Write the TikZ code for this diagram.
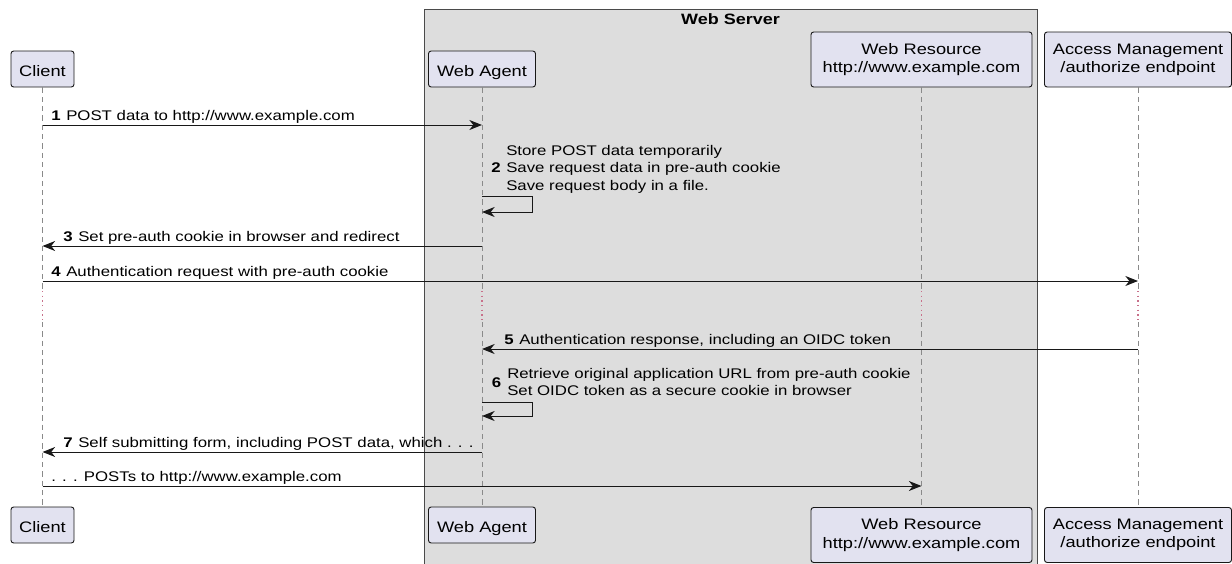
\documentclass[tikz,border=0pt]{standalone}
\usepackage{fontspec}
\setmainfont{Liberation Sans}[FakeStretch=1.2]
\usetikzlibrary{arrows.meta}
\definecolor{partfill}{HTML}{E2E2F0}
\definecolor{partdraw}{HTML}{181818}
\definecolor{boxfill}{HTML}{DDDDDD}
\definecolor{boxdraw}{HTML}{4A4A4A}
\definecolor{lifecol}{HTML}{8A8A8A}
\definecolor{delaycol}{HTML}{C8708A}
\newcommand\msgnum[1]{\makebox[11.25pt][l]{\bfseries #1}}
\begin{document}
\begin{tikzpicture}[x=0.75pt,y=-0.75pt,
  participant/.style={draw=partdraw, fill=partfill, rounded corners=2pt, line width=0.7pt,
    inner sep=0pt, align=center, font=\fontsize{11.4}{13.7}\selectfont, minimum height=27pt},
  single/.style={text height=11pt, text depth=0.5pt},
  tall/.style={minimum height=41.25pt},
  lifeline/.style={draw=lifecol, line width=0.7pt, dash pattern=on 4pt off 3pt},
  delay/.style={draw=delaycol, line width=1pt, dash pattern=on 1pt off 2.5pt},
  msg/.style={draw=partdraw, line width=0.75pt, -{Stealth[length=9.5pt,width=7.5pt,inset=3pt]}},
  lbl/.style={inner sep=0pt, anchor=base west, font=\fontsize{10.5}{12.6}\selectfont},
  ]
\useasboundingbox (0,0) rectangle (1232,564);

% group box
\node[draw=boxdraw, fill=boxfill, line width=0.75pt, inner sep=0pt, anchor=north west,
      minimum width=459.75pt, minimum height=424pt] (webserver) at (423.5,8.7) {};
\node[inner sep=0pt, anchor=base, font=\fontsize{11.25}{13}\selectfont\bfseries] (wstitle) at (730.5,24) {Web Server};

% participants (top)
\node[participant, single, minimum width=47.25pt] (client) at (42.5,69) {Client};
\node[participant, single, minimum width=80.25pt] (agent) at (482,69) {Web Agent};
\node[participant, tall, minimum width=165.75pt] (resource) at (921.5,59.5) {Web Resource\\http://www.example.com};
\node[participant, tall, minimum width=140.25pt] (access) at (1138,59.5) {Access Management\\/authorize endpoint};
% participants (bottom)
\node[participant, single, minimum width=47.25pt] (clientB) at (42.5,525) {Client};
\node[participant, single, minimum width=80.25pt] (agentB) at (482,525) {Web Agent};
\node[participant, tall, minimum width=165.75pt] (resourceB) at (921.5,535) {Web Resource\\http://www.example.com};
\node[participant, tall, minimum width=140.25pt] (accessB) at (1138,535) {Access Management\\/authorize endpoint};

% lifelines with delay
\foreach \p in {client,agent,resource,access}{
  \draw[lifeline] (\p.south) -- (\p.south |- 0,290);
  \draw[delay] (\p.south |- 0,291) -- (\p.south |- 0,322);
  \draw[lifeline] (\p.south |- 0,322) -- (\p B.north);
}

% 1
\draw[msg] (client.south |- 0,125) -- (agent.south |- 0,125);
\node[lbl] (m1) at (51,120) {\msgnum{1}POST data to http://www.example.com};
% 2
\node[lbl] (m2a) at (506,155) {Store POST data temporarily};
\node[lbl] (m2b) at (506,172) {Save request data in pre-auth cookie};
\node[lbl] (m2c) at (506,190) {Save request body in a file.};
\node[lbl, font=\fontsize{10.5}{12.6}\selectfont\bfseries] (m2n) at (491,172) {2};
\draw[msg] (agent.south |- 0,196) -- (532,196) -- (532,212) -- (agent.south |- 0,212);
% 3
\draw[msg] (agent.south |- 0,246) -- (client.south |- 0,246);
\node[lbl] (m3) at (63,241) {\msgnum{3}Set pre-auth cookie in browser and redirect};
% 4
\draw[msg] (client.south |- 0,281) -- (access.south |- 0,281);
\node[lbl] (m4) at (51,276) {\msgnum{4}Authentication request with pre-auth cookie};
% 5
\draw[msg] (access.south |- 0,349) -- (agent.south |- 0,349);
\node[lbl] (m5) at (504,344) {\msgnum{5}Authentication response, including an OIDC token};
% 6
\node[lbl] (m6a) at (507,378) {Retrieve original application URL from pre-auth cookie};
\node[lbl] (m6b) at (507,395) {Set OIDC token as a secure cookie in browser};
\node[lbl, font=\fontsize{10.5}{12.6}\selectfont\bfseries] (m6n) at (491.5,387) {6};
\draw[msg] (agent.south |- 0,402) -- (532,402) -- (532,416) -- (agent.south |- 0,416);
% 7
\draw[msg] (agent.south |- 0,452) -- (client.south |- 0,452);
\node[lbl] (m7) at (63,447) {\msgnum{7}Self submitting form, including POST data, which . . .};
% 8
\draw[msg] (client.south |- 0,486) -- (resource.south |- 0,486);
\node[lbl] (m8) at (51,481) {. . . POSTs to http://www.example.com};
\end{tikzpicture}
\end{document}
